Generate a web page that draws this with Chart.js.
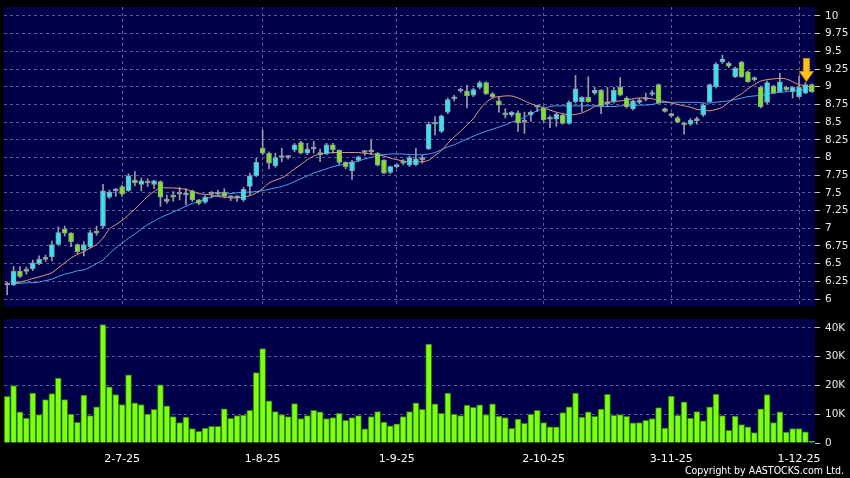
<!DOCTYPE html>
<html>
<head>
<meta charset="utf-8">
<script src="https://cdn.jsdelivr.net/npm/chart.js@4.4.1/dist/chart.umd.min.js"></script>
<style>
  html, body { margin: 0; padding: 0; background: #000; }
  #wrap { position: relative; width: 850px; height: 478px; background: #000; overflow: hidden; }
  #priceChart { position: absolute; left: 0; top: 0; }
  #volChart { position: absolute; left: 0; top: 312px; }
  #copy { position: absolute; right: 6px; top: 464px; color: #fff; font: 10.5px "DejaVu Sans Condensed", "DejaVu Sans", sans-serif; }
</style>
</head>
<body>
<div id="wrap">
  <canvas id="priceChart" width="850" height="312"></canvas>
  <canvas id="volChart" width="850" height="166"></canvas>
  <div id="copy">Copyright by AASTOCKS.com Ltd.</div>
</div>
<script>
// daily candles (oldest first)
const opens = [
  6.20, 6.20, 6.39, 6.41, 6.43, 6.50, 6.56, 6.60, 6.77, 6.99, 6.93, 6.77, 6.69, 6.74, 6.95, 7.03, 7.44, 7.53, 7.59, 7.53,
  7.68, 7.62, 7.64, 7.62, 7.66, 7.41, 7.46, 7.48, 7.47, 7.53, 7.40, 7.37, 7.48, 7.50, 7.51, 7.43, 7.43, 7.40, 7.59, 7.74,
  8.13, 8.06, 7.88, 8.00, 8.00, 8.11, 8.21, 8.06, 8.12, 8.06, 8.05, 8.18, 8.10, 7.93, 7.81, 7.96, 8.07, 8.08, 8.06, 7.96,
  7.79, 7.87, 7.94, 7.89, 7.90, 7.97, 8.12, 8.47, 8.37, 8.64, 8.83, 8.94, 8.94, 8.88, 8.99, 9.06, 8.90, 8.80, 8.63, 8.60,
  8.63, 8.50, 8.60, 8.71, 8.70, 8.54, 8.54, 8.60, 8.48, 8.79, 8.79, 8.85, 8.91, 8.95, 8.76, 8.79, 8.99, 8.84, 8.69, 8.78,
  8.82, 8.89, 9.03, 8.69, 8.62, 8.56, 8.48, 8.47, 8.52, 8.60, 8.79, 9.00, 9.35, 9.33, 9.14, 9.35, 9.21, 9.13, 8.99, 8.78,
  9.01, 8.93, 8.99, 8.93, 8.86, 8.91, 9.03
];
const highs = [
  6.24, 6.46, 6.46, 6.45, 6.55, 6.61, 6.62, 6.82, 7.02, 7.03, 6.94, 6.78, 6.81, 6.97, 7.03, 7.62, 7.54, 7.56, 7.61, 7.77,
  7.80, 7.71, 7.70, 7.68, 7.67, 7.47, 7.52, 7.58, 7.56, 7.54, 7.41, 7.46, 7.52, 7.54, 7.56, 7.46, 7.46, 7.58, 7.78, 7.99,
  8.39, 8.08, 8.06, 8.13, 8.03, 8.20, 8.23, 8.20, 8.23, 8.12, 8.20, 8.20, 8.11, 7.94, 7.96, 8.02, 8.10, 8.25, 8.07, 7.97,
  7.88, 7.91, 7.97, 8.02, 8.13, 8.03, 8.50, 8.58, 8.60, 8.84, 8.88, 8.98, 9.02, 8.98, 9.08, 9.07, 8.92, 8.86, 8.69, 8.65,
  8.66, 8.64, 8.66, 8.74, 8.72, 8.59, 8.63, 8.62, 8.80, 9.16, 8.86, 9.14, 8.99, 8.96, 8.99, 8.99, 9.13, 8.86, 8.81, 8.84,
  8.91, 8.95, 9.04, 8.70, 8.63, 8.58, 8.50, 8.55, 8.57, 8.76, 9.04, 9.34, 9.45, 9.35, 9.28, 9.36, 9.22, 9.14, 9.01, 9.08,
  9.02, 9.19, 9.00, 9.00, 9.15, 9.06, 9.04
];
const lows = [
  6.06, 6.19, 6.30, 6.35, 6.40, 6.48, 6.53, 6.54, 6.76, 6.89, 6.74, 6.64, 6.61, 6.72, 6.90, 7.00, 7.42, 7.45, 7.45, 7.52,
  7.60, 7.53, 7.59, 7.56, 7.31, 7.35, 7.38, 7.40, 7.33, 7.38, 7.33, 7.35, 7.43, 7.45, 7.43, 7.39, 7.38, 7.38, 7.47, 7.73,
  8.04, 7.84, 7.86, 7.94, 7.98, 8.08, 8.05, 8.04, 8.06, 7.94, 8.04, 8.06, 7.90, 7.84, 7.69, 7.94, 8.03, 8.04, 7.88, 7.77,
  7.77, 7.85, 7.90, 7.87, 7.88, 7.92, 8.11, 8.32, 8.35, 8.62, 8.80, 8.92, 8.70, 8.86, 8.97, 8.89, 8.84, 8.64, 8.56, 8.58,
  8.37, 8.34, 8.51, 8.65, 8.50, 8.42, 8.44, 8.47, 8.47, 8.77, 8.65, 8.78, 8.89, 8.62, 8.72, 8.77, 8.87, 8.70, 8.67, 8.76,
  8.80, 8.87, 8.76, 8.64, 8.57, 8.49, 8.33, 8.45, 8.47, 8.58, 8.78, 8.98, 9.33, 9.27, 9.13, 9.13, 9.06, 9.08, 8.70, 8.76,
  8.90, 8.92, 8.94, 8.84, 8.85, 8.90, 8.92
];
const closes = [
  6.20, 6.39, 6.32, 6.39, 6.51, 6.56, 6.56, 6.77, 6.94, 6.93, 6.81, 6.67, 6.77, 6.94, 6.93, 7.53, 7.51, 7.53, 7.48, 7.74,
  7.64, 7.67, 7.64, 7.67, 7.44, 7.38, 7.44, 7.48, 7.49, 7.40, 7.35, 7.44, 7.48, 7.48, 7.45, 7.43, 7.43, 7.55, 7.74, 7.93,
  8.06, 7.92, 8.00, 8.00, 8.00, 8.18, 8.06, 8.12, 8.12, 8.04, 8.18, 8.11, 7.93, 7.87, 7.94, 8.01, 8.07, 8.08, 7.89, 7.78,
  7.87, 7.90, 7.92, 8.00, 7.98, 7.97, 8.47, 8.49, 8.59, 8.82, 8.84, 8.94, 8.87, 8.96, 9.06, 8.90, 8.86, 8.74, 8.60, 8.64,
  8.49, 8.50, 8.64, 8.71, 8.53, 8.54, 8.61, 8.48, 8.78, 8.97, 8.85, 8.79, 8.95, 8.73, 8.76, 8.95, 8.88, 8.72, 8.80, 8.80,
  8.82, 8.91, 8.77, 8.65, 8.59, 8.50, 8.46, 8.53, 8.52, 8.74, 9.03, 9.32, 9.39, 9.29, 9.26, 9.14, 9.07, 9.10, 8.72, 9.06,
  8.91, 9.07, 8.96, 8.99, 8.99, 9.03, 8.93
];
// moving average lines as drawn (orange = short, blue = long)
const maShort = [
  null, 6.22, 6.24, 6.26, 6.29, 6.31, 6.34, 6.37, 6.44, 6.51, 6.58, 6.63, 6.67, 6.72, 6.77, 6.86, 6.99, 7.05, 7.11, 7.19,
  7.27, 7.36, 7.45, 7.52, 7.57, 7.57, 7.57, 7.56, 7.55, 7.52, 7.49, 7.48, 7.47, 7.45, 7.44, 7.43, 7.43, 7.44, 7.46, 7.50,
  7.56, 7.64, 7.68, 7.71, 7.77, 7.84, 7.90, 7.97, 8.02, 8.05, 8.06, 8.07, 8.07, 8.07, 8.07, 8.07, 8.06, 8.05, 8.04, 8.02,
  7.99, 7.97, 7.95, 7.94, 7.94, 7.94, 7.96, 8.03, 8.10, 8.20, 8.29, 8.37, 8.46, 8.55, 8.68, 8.78, 8.84, 8.86, 8.87, 8.87,
  8.84, 8.80, 8.76, 8.73, 8.70, 8.67, 8.64, 8.62, 8.60, 8.61, 8.63, 8.67, 8.72, 8.76, 8.78, 8.79, 8.80, 8.81, 8.83, 8.84,
  8.84, 8.83, 8.81, 8.79, 8.77, 8.75, 8.73, 8.71, 8.68, 8.67, 8.66, 8.68, 8.71, 8.78, 8.85, 8.90, 8.97, 9.03, 9.08, 9.10,
  9.11, 9.12, 9.11, 9.07, 9.03, 9.01, 9.00
];
const maLong = [
  null, 6.22, 6.22, 6.23, 6.23, 6.24, 6.26, 6.28, 6.32, 6.35, 6.37, 6.40, 6.41, 6.45, 6.50, 6.55, 6.64, 6.72, 6.79, 6.86,
  6.92, 6.99, 7.05, 7.10, 7.15, 7.19, 7.23, 7.27, 7.31, 7.35, 7.38, 7.41, 7.44, 7.46, 7.48, 7.49, 7.50, 7.51, 7.51, 7.52,
  7.53, 7.55, 7.57, 7.59, 7.62, 7.66, 7.70, 7.74, 7.78, 7.81, 7.84, 7.87, 7.89, 7.91, 7.93, 7.95, 7.98, 8.00, 8.03, 8.04,
  8.05, 8.05, 8.05, 8.04, 8.04, 8.04, 8.05, 8.07, 8.11, 8.15, 8.18, 8.22, 8.26, 8.30, 8.34, 8.37, 8.40, 8.43, 8.46, 8.50,
  8.53, 8.57, 8.62, 8.66, 8.69, 8.72, 8.73, 8.73, 8.73, 8.73, 8.73, 8.73, 8.73, 8.72, 8.72, 8.72, 8.73, 8.73, 8.73, 8.74,
  8.74, 8.75, 8.77, 8.78, 8.78, 8.78, 8.78, 8.78, 8.78, 8.77, 8.77, 8.78, 8.79, 8.80, 8.82, 8.84, 8.86, 8.87, 8.88, 8.89,
  8.91, 8.92, 8.93, 8.94, 8.95, 8.96, 8.96
];
// volume in thousands of shares
const volumes = [
  16.2, 20.0, 10.8, 8.7, 17.4, 9.9, 15.1, 17.2, 22.6, 15.1, 10.1, 7.2, 16.7, 9.5, 12.6, 41.2, 19.5, 16.8, 13.4, 23.7,
  14.0, 13.4, 10.1, 11.7, 20.2, 12.9, 9.2, 7.1, 9.0, 5.0, 4.1, 5.2, 5.8, 5.8, 11.9, 8.6, 9.5, 9.7, 11.4, 24.5,
  32.8, 14.7, 10.9, 9.9, 9.2, 13.7, 8.5, 9.5, 11.4, 10.8, 8.5, 8.8, 10.3, 7.9, 8.8, 9.5, 4.9, 9.2, 10.9, 7.3,
  6.0, 6.7, 9.2, 10.9, 14.0, 11.7, 34.4, 13.6, 10.3, 17.4, 10.1, 9.5, 13.2, 12.4, 13.3, 9.9, 13.6, 9.4, 8.8, 5.1,
  8.3, 6.8, 10.1, 11.4, 7.1, 5.6, 5.6, 10.6, 12.6, 17.4, 9.0, 10.8, 9.3, 11.8, 16.9, 9.6, 9.9, 9.3, 7.0, 7.1,
  7.9, 8.5, 12.3, 5.2, 16.3, 9.6, 14.3, 8.7, 10.9, 7.7, 12.6, 17.0, 9.5, 4.4, 9.4, 6.4, 5.6, 3.6, 11.9, 16.8,
  7.1, 10.8, 3.8, 5.0, 5.0, 3.9, 0.6
];
// date ticks on the x axis (bar index + text)
const tickPos = [18, 40, 61, 84, 104, 124];
const tickText = ['2-7-25', '1-8-25', '1-9-25', '2-10-25', '3-11-25', '1-12-25'];
const priceTicks = [6, 6.25, 6.5, 6.75, 7, 7.25, 7.5, 7.75, 8, 8.25, 8.5, 8.75, 9, 9.25, 9.5, 9.75, 10];
const volTicks = [0, 10, 20, 30, 40];
const arrowIdx = 125;

const NAVY = '#00004a';
const GRID = '#5c5c8e';
const UP = '#34e4f2';
const DOWN = '#7fe41e';
const FLAT = '#a8a8a8';
const FONT = 'DejaVu Sans';

const days = opens.map((_, i) => i);

const panelBg = {
    id: 'panelBg',
    beforeDraw(chart) {
        const { ctx, chartArea: a } = chart;
        ctx.save();
        ctx.fillStyle = NAVY;
        ctx.fillRect(a.left, a.top, a.right - a.left, a.bottom - a.top);
        ctx.restore();
    }
};

const arrowMark = {
    id: 'arrowMark',
    afterDatasetsDraw(chart) {
        const ctx = chart.ctx;
        const x = chart.scales.x.getPixelForValue(arrowIdx) + 1;
        const tip = chart.scales.y.getPixelForValue(highs[arrowIdx]) - 1;
        ctx.save();
        ctx.beginPath();
        ctx.moveTo(x - 3, tip - 23);
        ctx.lineTo(x + 3, tip - 23);
        ctx.lineTo(x + 3, tip - 10);
        ctx.lineTo(x + 7, tip - 10);
        ctx.lineTo(x, tip);
        ctx.lineTo(x - 7, tip - 10);
        ctx.lineTo(x - 3, tip - 10);
        ctx.closePath();
        ctx.fillStyle = '#f8c41c';
        ctx.fill();
        ctx.strokeStyle = '#d08a00';
        ctx.lineWidth = 1;
        ctx.stroke();
        ctx.restore();
    }
};

function dateGrid(c) {
    return tickPos.includes(c.index) ? GRID : 'rgba(0,0,0,0)';
}

function bodyColor(i) {
    if (closes[i] > opens[i]) return UP;
    if (closes[i] < opens[i]) return DOWN;
    return FLAT;
}

// right axis: fixed width, no extra label padding top/bottom
function fitRight(axis) {
    axis.width = 35;
    axis.paddingTop = 0;
    axis.paddingBottom = 0;
}

new Chart(document.getElementById('priceChart'), {
    type: 'bar',
    data: {
        labels: days,
        datasets: [
            {
                type: 'line',
                label: 'MA short',
                data: maShort,
                borderColor: '#e69a74',
                borderWidth: 1,
                pointRadius: 0,
                tension: 0.3,
                order: 1
            },
            {
                type: 'line',
                label: 'MA long',
                data: maLong,
                borderColor: '#47a6ee',
                borderWidth: 1,
                pointRadius: 0,
                tension: 0.3,
                order: 1
            },
            {
                label: 'wick',
                data: highs.map((h, i) => [lows[i], h]),
                backgroundColor: '#9c9c9c',
                barThickness: 1,
                grouped: false,
                order: 2
            },
            {
                label: 'body',
                data: opens.map((o, i) => [o, closes[i]]),
                backgroundColor: days.map(bodyColor),
                borderColor: '#8d9aa6',
                borderWidth: 1,
                borderSkipped: false,
                barThickness: 5,
                minBarLength: 2,
                grouped: false,
                order: 0
            }
        ]
    },
    options: {
        responsive: false,
        animation: false,
        layout: { padding: { left: 4, top: 7, right: 0, bottom: 5 } },
        plugins: { legend: { display: false }, tooltip: { enabled: false } },
        scales: {
            x: {
                offset: true,
                grid: { offset: false, color: dateGrid, drawTicks: false },
                border: { display: false, dash: [3, 3] },
                ticks: { display: false, autoSkip: false },
                afterFit: (axis) => { axis.height = 0; }
            },
            y: {
                position: 'right',
                min: 5.887,
                max: 10.127,
                afterBuildTicks: (axis) => { axis.ticks = priceTicks.map(v => ({ value: v })); },
                afterFit: fitRight,
                grid: { color: GRID, tickColor: '#c8c8c8', tickLength: 5 },
                border: { display: false, dash: [3, 3] },
                ticks: {
                    color: '#e8e8e8',
                    padding: 5,
                    font: { family: FONT, size: 10.5 },
                    callback: (v) => String(+v.toFixed(2))
                }
            }
        }
    },
    plugins: [panelBg, arrowMark]
});

new Chart(document.getElementById('volChart'), {
    type: 'bar',
    data: {
        labels: days,
        datasets: [{
            label: 'Volume',
            data: volumes,
            backgroundColor: '#7dff12',
            borderColor: '#2f7a08',
            borderWidth: 1,
            barThickness: 6
        }]
    },
    options: {
        responsive: false,
        animation: false,
        layout: { padding: { left: 4, top: 7, right: 0, bottom: 0 } },
        plugins: { legend: { display: false }, tooltip: { enabled: false } },
        scales: {
            x: {
                offset: true,
                grid: { offset: false, color: dateGrid, tickColor: (c) => tickPos.includes(c.index) ? '#b0b0b0' : 'rgba(0,0,0,0)', tickLength: 5 },
                border: { display: false, dash: [3, 3] },
                ticks: {
                    autoSkip: false,
                    maxRotation: 0,
                    padding: 5,
                    color: '#ffffff',
                    font: { family: FONT, size: 11 },
                    callback: (v, i) => {
                        const k = tickPos.indexOf(i);
                        return k < 0 ? null : tickText[k];
                    }
                },
                afterFit: (axis) => { axis.height = 35; }
            },
            y: {
                position: 'right',
                min: 0,
                max: 43.13,
                afterBuildTicks: (axis) => { axis.ticks = volTicks.map(v => ({ value: v })); },
                afterFit: fitRight,
                grid: { color: (c) => c.tick && c.tick.value === 0 ? 'rgba(0,0,0,0)' : GRID, tickColor: '#c8c8c8', tickLength: 5 },
                border: { display: false, dash: [3, 3] },
                ticks: {
                    color: '#e8e8e8',
                    padding: 5,
                    font: { family: FONT, size: 10.5 },
                    callback: (v) => v === 0 ? '0' : v + 'K'
                }
            }
        }
    },
    plugins: [panelBg]
});
</script>
</body>
</html>
